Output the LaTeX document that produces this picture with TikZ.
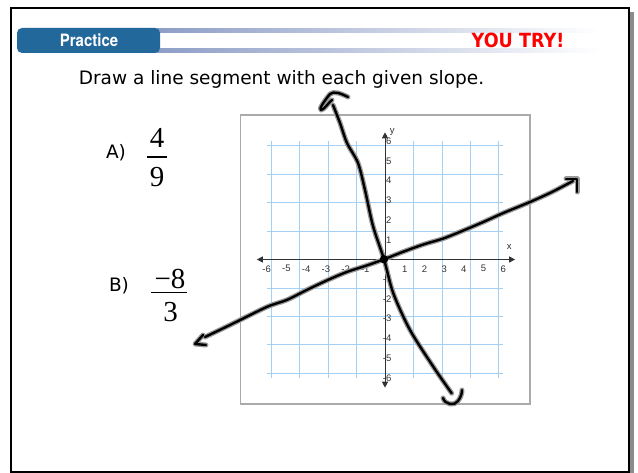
\documentclass[tikz,border=0pt]{standalone}
\usepackage{fontspec}
\setmainfont{DejaVu Sans}
\newfontfamily\headf{TeX Gyre Heros}
\newfontfamily\serifnum{Liberation Serif}
\newfontfamily\tickf{Liberation Sans}
\usetikzlibrary{arrows.meta}
\definecolor{practiceblue}{RGB}{35,104,155}
\definecolor{bandblue}{RGB}{140,156,198}
\definecolor{gridblue}{RGB}{165,208,245}
\definecolor{boxgray}{RGB}{170,170,170}
\definecolor{axisgray}{RGB}{50,50,50}
\definecolor{tryred}{RGB}{255,0,0}
\tikzset{
  ticklbl/.style={font=\tickf\fontsize{9.5}{10}\selectfont, text=axisgray, inner sep=0pt},
  handtext/.style={font=\fontsize{18.5}{21}\selectfont, inner sep=0pt},
  fracnum/.style={font=\serifnum\fontsize{29}{30}\selectfont, inner sep=0pt},
  halo/.style={line width=5pt, color=black!40, line cap=round, line join=round},
  ink/.style={line width=2.4pt, color=black, line cap=round, line join=round},
  axisline/.style={line width=1pt, color=axisgray, {Triangle[length=6pt,width=6pt]}-{Triangle[length=6pt,width=6pt]}},
}
\begin{document}
\begin{tikzpicture}[x=1pt,y=-1pt]
\useasboundingbox (0,0) rectangle (638,473);
% frame and shadow
\fill[black!45] (629.5,12) rectangle (634,473);
\draw[line width=2pt] (10.5,8.5) rectangle (628.5,471.5);
% header bands
\shade[left color=bandblue,right color=white] (150,29) rectangle (600,32.5);
\shade[left color=bandblue,right color=white] (150,49) rectangle (600,53);
\node[fill=practiceblue, rounded corners=5pt, minimum width=143pt, minimum height=25pt, inner sep=0pt] (practicebox) at (88.5,40.5) {};
\node[font=\headf\bfseries\fontsize{17}{18}\selectfont, text=white, xscale=0.88, inner sep=0pt] (practice) at (89,40.5) {Practice};
\node[font=\bfseries\fontsize{19.5}{20}\selectfont, text=tryred, xscale=0.9, inner sep=0pt, anchor=base] (youtry) at (518,48) {YOU TRY!};
% title
\node[handtext, anchor=base] (title) at (281.5,85) {Draw a line segment with each given slope.};
% A and B
\node[handtext] (labA) at (116,152.5) {A)};
\node[fracnum] (numA) at (157,138) {4};
\draw[line width=1.2pt] (147,157) -- (167,157);
\node[fracnum] (denA) at (157,177.5) {9};
\node[handtext] (labB) at (119,285.5) {B)};
\node[fracnum] (numB) at (170,279) {−8};
\draw[line width=1.2pt] (151,292.5) -- (187,292.5);
\node[fracnum] (denB) at (170.5,312) {3};
% graph box
\draw[boxgray, line width=1.5pt] (240.5,115) rectangle (530,404);
\begin{scope}[shift={(385,259.5)}, x=19.72pt, y=19.72pt]
  \draw[gridblue, line width=0.8pt] (-6,-6) grid (6,6);
  \draw[axisline] (-6.5,0) -- (6.6,0);
  \draw[axisline] (0,-6.5) -- (0,6.45);
  \foreach \i in {-6,...,-1,1,2,...,6} {
    \node[ticklbl] at (\i,-0.47) {\i};
    \node[ticklbl, anchor=east] at (0.33,\i) {\i};
  }
  \node[ticklbl] (xlab) at (6.3,0.63) {x};
  \node[ticklbl] (ylab) at (0.37,6.45) {y};
\end{scope}
% hand drawn lines
\foreach \s in {halo,ink} {
  \draw[\s] plot[smooth] coordinates {(205,337) (230,325) (266.7,307) (286.7,300) (306.7,290) (326.7,280.5) (346.7,272) (366.7,265.5) (384,259.3) (403.3,251.7) (423.3,244.5) (443.3,238.5) (463.3,230.5) (483.3,222) (503.3,213) (530,202) (552,192) (573,181)};
  \draw[\s] (203,335) -- (195,344) -- (206,345);
  \draw[\s] (566,179) -- (577,179) -- (577,192);
  \draw[\s] plot[smooth] coordinates {(333,105) (340,123) (347,143) (358,163) (365,190) (373,226) (384,259.3) (393.3,293.3) (410,330) (433.3,366.7) (451.7,393.3)};
  \draw[\s] (348,97) .. controls (340,93) and (334,91) .. (330,94) .. controls (325,100) and (318,110) .. (321,110) .. controls (324,110) and (328,103) .. (332,100);
  \draw[\s] (443,398) .. controls (445,405) and (455,406) .. (458,401) .. controls (461,397) and (462,393) .. (462,390);
}
\fill (384,259.3) circle (4.2pt);
\end{tikzpicture}
\end{document}
